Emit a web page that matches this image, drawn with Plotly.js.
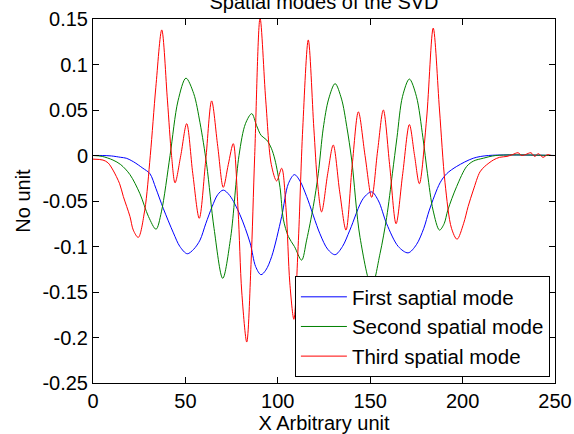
<!DOCTYPE html>
<html>
<head>
<meta charset="utf-8">
<script src="https://cdn.plot.ly/plotly-3.0.1.min.js"></script>
<style>
  html, body { margin: 0; padding: 0; background: #ffffff; }
  #chart { width: 574px; height: 434px; }
</style>
</head>
<body>
<div id="chart"></div>
<script>
// First spatial mode (blue)
const firstX = [0, 5, 10, 15, 18, 22, 27, 30.8, 34, 38, 43.5, 47, 51, 54.5, 57.9, 61, 64.5, 67.5, 70.5, 74, 79.5, 85, 88, 90.9, 93.5, 96.7, 102.1, 105.7, 109, 112, 115.6, 122.8, 127, 131, 135, 139, 146.3, 150.8, 154.5, 158.9, 165.2, 170.5, 175, 179, 182, 187.8, 191.4, 196.8, 205.8, 214, 250];
const firstY = [0, 0, -0.0005, -0.002, -0.003, -0.007, -0.014, -0.020, -0.036, -0.058, -0.085, -0.100, -0.108, -0.103, -0.093, -0.075, -0.056, -0.043, -0.038, -0.044, -0.065, -0.096, -0.122, -0.131, -0.126, -0.111, -0.067, -0.031, -0.021, -0.028, -0.045, -0.086, -0.103, -0.109, -0.100, -0.082, -0.047, -0.040, -0.050, -0.075, -0.100, -0.107, -0.098, -0.080, -0.060, -0.030, -0.020, -0.012, -0.003, 0, 0];

// Second spatial mode (green)
const secondX = [0, 5, 10.8, 15, 20, 25.4, 30, 34.1, 37, 41.7, 46, 50.3, 54.5, 57.9, 61.5, 65.5, 70.2, 74.5, 79, 82.5, 85.9, 88.5, 91, 94, 96.5, 98.5, 101.2, 103, 105.7, 109, 112.9, 115.6, 119.2, 121.9, 124.6, 127.5, 131, 134.5, 137.3, 140, 144.5, 150.8, 155.3, 158.9, 162, 164.5, 167.5, 171.2, 175, 178.5, 181, 184, 187.5, 190, 192, 196.8, 202.2, 206, 211.2, 218, 250];
const secondY = [0, -0.001, -0.005, -0.010, -0.021, -0.042, -0.067, -0.081, -0.062, 0, 0.060, 0.085, 0.068, 0.036, -0.010, -0.080, -0.135, -0.090, 0, 0.035, 0.046, 0.033, 0.022, 0.017, 0.008, -0.005, -0.035, -0.070, -0.089, -0.100, -0.115, -0.093, -0.056, -0.020, 0.030, 0.062, 0.079, 0.062, 0.032, -0.005, -0.090, -0.144, -0.108, -0.068, -0.020, 0.020, 0.065, 0.084, 0.065, 0.020, -0.020, -0.060, -0.082, -0.075, -0.060, -0.034, -0.012, -0.006, -0.003, 0, 0];

// Third spatial mode (red)
const thirdX = [0, 5.4, 8.1, 10.8, 14.4, 16.4, 20, 21.8, 24.5, 28, 31, 34, 37.2, 40.3, 42.5, 44.4, 47.5, 50.7, 54, 57.5, 61, 64.2, 67.5, 70.5, 73.2, 75.9, 78.5, 80.5, 83.2, 85.5, 87.5, 90.4, 93.5, 96.5, 99.4, 102.1, 104.5, 106.5, 108.7, 111, 113.5, 116.5, 119.5, 121.5, 123.7, 127, 130, 133.5, 136.9, 140.3, 143.6, 147.2, 150.8, 154, 157.1, 160.5, 164, 167.6, 171.2, 174, 176.6, 180.5, 184.1, 187.5, 190.5, 194, 197, 200.5, 203, 205.8, 209.4, 212, 216.6, 220, 224, 227, 230, 232, 234, 237, 239, 241, 243.5, 246, 248, 250];
const thirdY = [-0.004, -0.005, -0.008, -0.016, -0.031, -0.045, -0.067, -0.082, -0.090, -0.060, 0, 0.075, 0.138, 0.060, 0, -0.030, 0, 0.035, -0.020, -0.069, -0.005, 0.060, 0.010, -0.035, -0.010, 0.013, -0.060, -0.150, -0.205, -0.120, 0, 0.151, 0.060, -0.010, -0.028, -0.014, -0.060, -0.140, -0.180, -0.100, 0.030, 0.127, 0.030, -0.030, -0.062, -0.020, 0.0115, -0.040, -0.082, -0.010, 0.048, 0, -0.046, 0.005, 0.050, -0.010, -0.075, -0.020, 0.034, 0, -0.031, 0.040, 0.140, 0.050, -0.030, -0.080, -0.092, -0.075, -0.056, -0.038, -0.018, -0.012, -0.005, -0.002, -0.001, 0.001, 0.003, 0, 0.001, 0.003, -0.001, 0.002, -0.002, 0.001, 0, 0];

const xTicks = [0, 50, 100, 150, 200, 250];
const xTickText = ['0', '50', '100', '150', '200', '250'];
const yTicks = [0.15, 0.1, 0.05, 0, -0.05, -0.1, -0.15, -0.2, -0.25];
const yTickText = ['0.15', '0.1', '0.05', '0', '-0.05', '-0.1', '-0.15', '-0.2', '-0.25'];

const seriesNames = ['First saptial mode', 'Second spatial mode', 'Third spatial mode'];
const seriesColors = ['#0000ff', '#008000', '#ff0000'];

const font = 'Liberation Sans, Arial, Helvetica, sans-serif';

function lineTrace(x, y, i) {
  return {
    x: x, y: y, type: 'scatter', mode: 'lines', name: seriesNames[i],
    line: { color: seriesColors[i], width: 1, shape: 'spline', smoothing: 0.9 }
  };
}

const data = [
  lineTrace(firstX, firstY, 0),
  lineTrace(secondX, secondY, 1),
  lineTrace(thirdX, thirdY, 2)
];

const axisCommon = {
  showline: true, linecolor: '#000000', linewidth: 1, mirror: 'ticks',
  ticks: 'inside', ticklen: 6, tickcolor: '#000000', tickwidth: 1,
  showgrid: false, zeroline: false, automargin: false,
  tickfont: { family: font, size: 20, color: '#000000' }
};

const layout = {
  width: 574, height: 434,
  margin: { l: 93, r: 19, t: 19, b: 51 },
  paper_bgcolor: '#ffffff', plot_bgcolor: '#ffffff',
  font: { family: font, size: 20, color: '#000000' },
  title: {
    text: 'Spatial modes of the SVD',
    font: { family: font, size: 20, color: '#000000' },
    xref: 'paper', x: 0.5, xanchor: 'center',
    yref: 'container', y: 0.979, yanchor: 'bottom'
  },
  xaxis: Object.assign({}, axisCommon, {
    range: [0, 250], tickvals: xTicks, ticktext: xTickText,
    title: { text: 'X Arbitrary unit', font: { family: font, size: 20, color: '#000000' }, standoff: 4 }
  }),
  yaxis: Object.assign({}, axisCommon, {
    range: [-0.25, 0.15], tickvals: yTicks, ticktext: yTickText,
    title: { text: 'No unit', font: { family: font, size: 20, color: '#000000' }, standoff: 6 }
  }),
  showlegend: true,
  legend: {
    x: 0.437, y: 0.0165, xanchor: 'left', yanchor: 'bottom',
    bgcolor: '#ffffff', bordercolor: '#000000', borderwidth: 1,
    font: { family: font, size: 20.5, color: '#000000' },
    itemwidth: 46, tracegroupgap: 0
  }
};

Plotly.newPlot('chart', data, layout, { staticPlot: true, displayModeBar: false });
</script>
</body>
</html>
